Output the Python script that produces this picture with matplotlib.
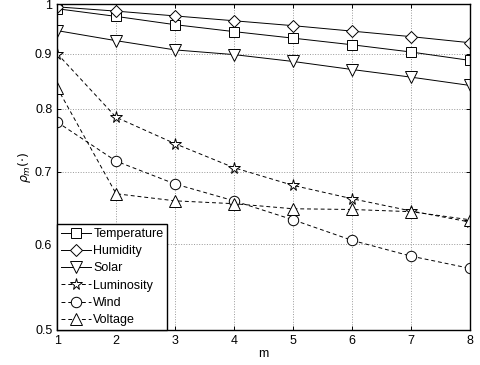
import numpy as np
import matplotlib.pyplot as plt
from matplotlib.ticker import FixedLocator, NullLocator

plt.rcParams['font.family'] = ['Liberation Sans', 'DejaVu Sans']

m = [1, 2, 3, 4, 5, 6, 7, 8]
temperature = [0.990, 0.974, 0.957, 0.943, 0.930, 0.917, 0.903, 0.887]
humidity = [0.994, 0.985, 0.975, 0.965, 0.955, 0.944, 0.933, 0.921]
solar = [0.945, 0.925, 0.907, 0.898, 0.885, 0.870, 0.856, 0.841]
luminosity = [0.900, 0.786, 0.743, 0.706, 0.680, 0.661, 0.644, 0.629]
wind = [0.778, 0.716, 0.682, 0.658, 0.632, 0.605, 0.585, 0.570]
voltage = [0.837, 0.668, 0.658, 0.654, 0.647, 0.646, 0.643, 0.632]

yticks = [0.5, 0.6, 0.7, 0.8, 0.9, 1.0]
yticklabels = ['0.5', '0.6', '0.7', '0.8', '0.9', '1']

fig = plt.figure(figsize=(4.8, 3.65), dpi=100)
ax = fig.add_axes([0.119, 0.096, 0.860, 0.893])

series = [
    ('Temperature', temperature, 's', '-'),
    ('Humidity', humidity, 'D', '-'),
    ('Solar', solar, 'v', '-'),
    ('Luminosity', luminosity, '*', '--'),
    ('Wind', wind, 'o', '--'),
    ('Voltage', voltage, '^', '--'),
]
sizes = {'s': 6.5, 'D': 6.5, 'v': 8.5, '*': 8.5, 'o': 7.5, '^': 8.5}
for name, vals, mk, ls in series:
    ax.plot(m, vals, color='black', linestyle=ls, linewidth=0.7, marker=mk,
            markersize=sizes[mk], markerfacecolor='white', markeredgecolor='black',
            markeredgewidth=0.7, label=name, dashes=(4, 3) if ls == '--' else (None, None))

ax.set_yscale('log')
ax.set_xlim(1, 8)
ax.set_ylim(0.5, 1.0)
ax.set_xticks(m)
ax.yaxis.set_major_locator(FixedLocator(yticks))
ax.yaxis.set_minor_locator(NullLocator())
ax.set_yticklabels(yticklabels)
ax.tick_params(direction='in', labelsize=9, length=3, top=True, right=True, width=0.7)
ax.grid(True, linestyle=':', color='#999999', linewidth=0.7)
for s in ax.spines.values():
    s.set_linewidth(1.0)

ax.set_xlabel('m', fontsize=9, labelpad=1)
ax.set_ylabel(r'$\rho_m(\cdot)$', fontsize=9, labelpad=1)

leg = ax.legend(loc='lower left', fontsize=9, frameon=True, fancybox=False,
                framealpha=1, edgecolor='black', borderaxespad=0, handlelength=2.4,
                handletextpad=0.2, labelspacing=0.42, borderpad=0.3)
leg.get_frame().set_linewidth(1.0)

fig.savefig('out.png', dpi=100)
